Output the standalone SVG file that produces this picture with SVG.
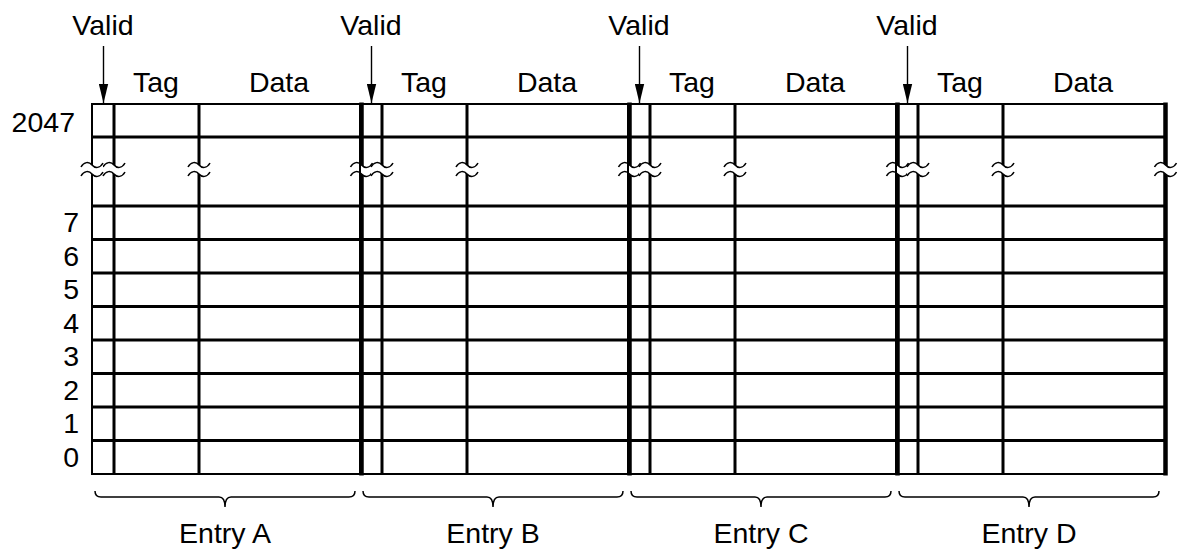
<svg xmlns="http://www.w3.org/2000/svg" xmlns:xlink="http://www.w3.org/1999/xlink" width="1186" height="556" viewBox="0 0 1186 556">
<style>
text{font-family:"Liberation Sans",Arial,Helvetica,sans-serif;font-size:28.5px;fill:#000}
.c{text-anchor:middle}
.e{text-anchor:end}
.thin{stroke:#000;stroke-width:2;fill:none}
.mid{stroke:#000;stroke-width:3;fill:none}
.thick{stroke:#000;stroke-width:4.5;fill:none}
.brace{stroke:#000;stroke-width:1.5;fill:none}
.arr{stroke:#000;stroke-width:1.4;fill:none}
</style>
<defs>
<marker id="ah" markerUnits="userSpaceOnUse" viewBox="0 0 19 10" markerWidth="19" markerHeight="10" refX="19" refY="5" orient="auto">
<path d="M0,0.3 L19,5 L0,9.7 Z" fill="#000"/>
</marker>
<g id="brk">
<path d="M-11,2 C-8,-3.5 -3,-3.5 0,0 C3,3.5 8,3.5 11,-2 L11,7 C8,12.5 3,12.5 0,9 C-3,5.5 -8,5.5 -11,11 Z" fill="#fff" stroke="none"/>
<path d="M-11,2 C-8,-3.5 -3,-3.5 0,0 C3,3.5 8,3.5 11,-2 M-11,11 C-8,5.5 -3,5.5 0,9 C3,12.5 8,12.5 11,7" fill="none" stroke="#000" stroke-width="1.5"/>
</g>
<g id="entry">
<path class="thin" d="M92,104 H362 M92,474 H362 M92,103 V475"/>
<path class="mid" d="M92,137 H362 M92,206 H362 M92,239.5 H362 M92,273 H362 M92,306.5 H362 M92,340 H362 M92,373.5 H362 M92,407 H362 M92,440.5 H362"/>
<path class="mid" d="M114,104 V474 M199,104 V474"/>
<path class="thick" d="M361.5,102.5 V475.5"/>
<use xlink:href="#brk" href="#brk" x="114" y="165"/>
<use xlink:href="#brk" href="#brk" x="199" y="165"/>
<use xlink:href="#brk" href="#brk" x="361.5" y="165"/>
<path class="brace" d="M95,491 Q95,497 101,497 L219,497 Q225,497 225,507 Q225,497 231,497 L349,497 Q355,497 355,491"/>
</g>
</defs>

<g id="entry-a">
<use xlink:href="#entry" href="#entry"/>
<use xlink:href="#brk" href="#brk" x="92" y="165"/>
<text class="c" x="103" y="35">Valid</text>
<text class="c" x="156" y="92">Tag</text>
<text class="c" x="279" y="92">Data</text>
<text class="c" x="225" y="543">Entry A</text>
</g>
<g id="entry-b">
<use xlink:href="#entry" href="#entry" transform="translate(268,0)"/>
<text class="c" x="371" y="35">Valid</text>
<text class="c" x="424" y="92">Tag</text>
<text class="c" x="547" y="92">Data</text>
<text class="c" x="493" y="543">Entry B</text>
</g>
<g id="entry-c">
<use xlink:href="#entry" href="#entry" transform="translate(536,0)"/>
<text class="c" x="639" y="35">Valid</text>
<text class="c" x="692" y="92">Tag</text>
<text class="c" x="815" y="92">Data</text>
<text class="c" x="761" y="543">Entry C</text>
</g>
<g id="entry-d">
<use xlink:href="#entry" href="#entry" transform="translate(804,0)"/>
<text class="c" x="907" y="35">Valid</text>
<text class="c" x="960" y="92">Tag</text>
<text class="c" x="1083" y="92">Data</text>
<text class="c" x="1029" y="543">Entry D</text>
</g>

<g id="row-labels">
<text class="e" x="75" y="132">2047</text>
<text class="e" x="79" y="232">7</text>
<text class="e" x="79" y="265.5">6</text>
<text class="e" x="79" y="299">5</text>
<text class="e" x="79" y="332.5">4</text>
<text class="e" x="79" y="366">3</text>
<text class="e" x="79" y="399.5">2</text>
<text class="e" x="79" y="433">1</text>
<text class="e" x="79" y="466.5">0</text>
</g>

<g id="connectors">
<line class="arr" x1="103.5" y1="46" x2="103.5" y2="103" marker-end="url(#ah)"/>
<line class="arr" x1="371.5" y1="46" x2="371.5" y2="103" marker-end="url(#ah)"/>
<line class="arr" x1="639.5" y1="46" x2="639.5" y2="103" marker-end="url(#ah)"/>
<line class="arr" x1="907.5" y1="46" x2="907.5" y2="103" marker-end="url(#ah)"/>
</g>
</svg>
